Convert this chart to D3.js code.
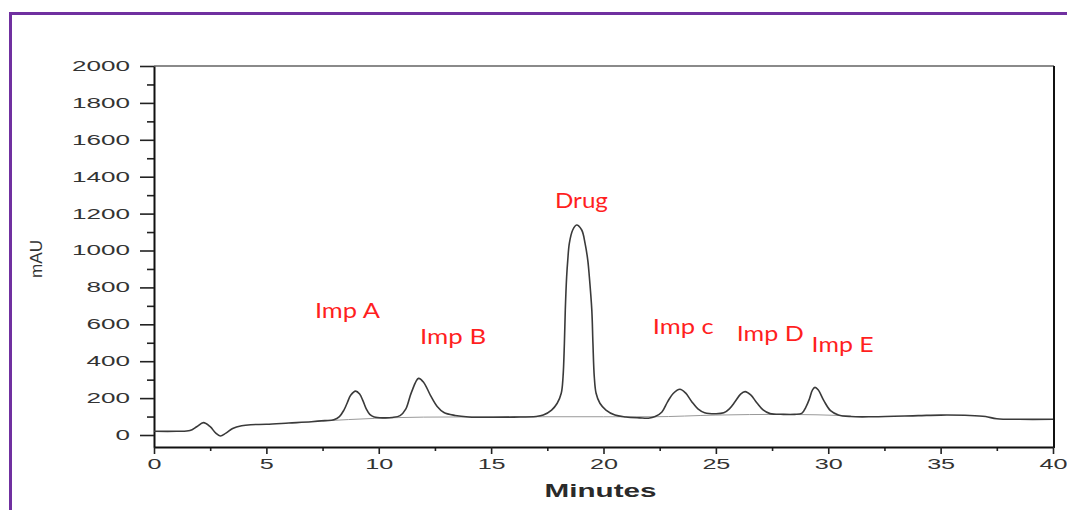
<!DOCTYPE html>
<html>
<head>
<meta charset="utf-8">
<script src="https://cdn.jsdelivr.net/npm/d3@7"></script>
<style>
  html, body { margin: 0; padding: 0; background: #fff; overflow: hidden; }
  svg { display: block; }
</style>
</head>
<body>
<svg id="chart" width="1067" height="510"></svg>
<script>
// ---- data ----
const traceTime = [0, 1.0, 1.6, 1.9, 2.2, 2.5, 2.75, 2.95, 3.2, 3.5, 3.9, 4.3, 5, 6, 7, 7.6,
  8.0, 8.25, 8.45, 8.6, 8.75, 8.97, 9.15, 9.3, 9.45, 9.6, 9.8, 10.2, 10.6,
  10.95, 11.2, 11.45, 11.77, 12.0, 12.3, 12.6, 12.9, 13.4, 14, 15, 16, 17.0,
  17.32, 17.69, 17.94, 18.12, 18.20, 18.26, 18.30, 18.36, 18.41, 18.48, 18.63, 18.80,
  19.03, 19.18, 19.30, 19.37, 19.48, 19.53, 19.59, 19.67, 19.84, 20.11, 20.51,
  21.0, 21.6, 22.0, 22.3, 22.6, 22.85, 23.1, 23.40, 23.65, 23.92, 24.2, 24.5, 25.0,
  25.35, 25.6, 25.85, 26.1, 26.30, 26.55, 26.82, 27.1, 27.41, 28.0, 28.5,
  28.82, 29.0, 29.16, 29.3, 29.41, 29.55, 29.81, 30.1, 30.45, 31, 32, 34, 35, 36.3, 37, 37.5, 38.5, 40];
const traceMAU = [20, 20, 24, 45, 67, 45, 10, -5, 10, 35, 50, 56, 58, 65, 72, 78,
  83, 100, 135, 175, 215, 238, 222, 185, 140, 112, 98, 93, 95,
  105, 140, 230, 307, 285, 215, 155, 122, 106, 98, 96, 97, 100,
  108, 135, 172, 226, 316, 497, 677, 858, 948, 1039, 1111, 1138,
  1111, 1039, 948, 858, 677, 497, 316, 226, 172, 135, 108,
  98, 93, 91, 100, 125, 180, 225, 248, 228, 182, 142, 121, 115,
  120, 142, 180, 222, 235, 217, 175, 136, 116, 112, 112,
  117, 150, 195, 245, 258, 245, 185, 132, 109, 100, 99, 105, 108, 106, 100, 88, 85, 85];

// integration baseline drawn under the peaks
const baseTime = [7.5, 9.8, 12, 16, 20, 22.2, 25, 28, 31];
const baseMAU  = [76, 90, 97, 99, 99, 99, 108, 112, 104];

// peak annotations
const peakLabels = ["Imp A", "Imp B", "Drug", "Imp c", "Imp D", "Imp E"];
const labelTime  = [7.16, 11.84, 17.84, 22.19, 25.93, 29.26];
const labelMAU   = [634, 493, 1229, 546, 511, 448];
const labelWidth = [65, 66, 53, 61, 67, 62];

const yMajor = [0, 200, 400, 600, 800, 1000, 1200, 1400, 1600, 1800, 2000];
const yMinor = [100, 300, 500, 700, 900, 1100, 1300, 1500, 1700, 1900];
const xMajor = [0, 5, 10, 15, 20, 25, 30, 35, 40];
const xMinor = [2.5, 7.5, 12.5, 17.5, 22.5, 27.5, 32.5, 37.5];

// ---- drawing ----
const svg = d3.select("#chart");

// purple frame
svg.append("rect")
  .attr("x", 10.5).attr("y", 13.5).attr("width", 1200).attr("height", 700)
  .attr("fill", "none").attr("stroke", "#7030a0").attr("stroke-width", 3);

const x = d3.scaleLinear().domain([0, 40]).range([154, 1053]);
const y = d3.scaleLinear().domain([-65, 2000]).range([447, 66]);

const numFont = "'Liberation Sans', Arial, sans-serif";

// top frame line (gray)
svg.append("line")
  .attr("x1", x(0)).attr("x2", x(40) + 1).attr("y1", y(2000)).attr("y2", y(2000))
  .attr("stroke", "#8a8a8a").attr("stroke-width", 2);
// right frame line
svg.append("line")
  .attr("x1", x(40) + 1).attr("x2", x(40) + 1).attr("y1", y(2000)).attr("y2", y(-65) + 1)
  .attr("stroke", "#111").attr("stroke-width", 2);

// y axis minor
svg.append("g").attr("transform", `translate(${x(0)},0)`)
  .call(d3.axisLeft(y).tickValues(yMinor).tickSize(7).tickSizeOuter(0).tickFormat(""))
  .call(g => g.select(".domain").remove())
  .call(g => g.selectAll("line").attr("stroke", "#222").attr("stroke-width", 1.6));
// y axis major
svg.append("g").attr("transform", `translate(${x(0)},0)`)
  .call(d3.axisLeft(y).tickValues(yMajor).tickSize(14).tickSizeOuter(0).tickPadding(10).tickFormat(d3.format("d")))
  .call(g => g.select(".domain").attr("stroke", "#111").attr("stroke-width", 2))
  .call(g => g.selectAll("line").attr("stroke", "#222").attr("stroke-width", 1.6))
  .call(g => g.selectAll("text")
    .attr("font-family", numFont).attr("font-size", 14).attr("fill", "#333")
    .attr("lengthAdjust", "spacingAndGlyphs")
    .attr("textLength", d => String(d).length * 14.5));

// x axis minor
svg.append("g").attr("transform", `translate(0,${y(-65)})`)
  .call(d3.axisBottom(x).tickValues(xMinor).tickSize(4).tickSizeOuter(0).tickFormat(""))
  .call(g => g.select(".domain").remove())
  .call(g => g.selectAll("line").attr("stroke", "#222").attr("stroke-width", 1.6));
// x axis major
svg.append("g").attr("transform", `translate(0,${y(-65)})`)
  .call(d3.axisBottom(x).tickValues(xMajor).tickSize(7).tickSizeOuter(0).tickPadding(5).tickFormat(d3.format("d")))
  .call(g => g.select(".domain").attr("stroke", "#111").attr("stroke-width", 2))
  .call(g => g.selectAll("line").attr("stroke", "#222").attr("stroke-width", 1.6))
  .call(g => g.selectAll("text")
    .attr("font-family", numFont).attr("font-size", 14).attr("fill", "#333")
    .attr("lengthAdjust", "spacingAndGlyphs")
    .attr("textLength", d => String(d).length * 14));

// axis titles
svg.append("text")
  .attr("x", (x(0) + x(40)) / 2 - 3).attr("y", 496.5)
  .attr("text-anchor", "middle")
  .attr("font-family", numFont).attr("font-size", 18).attr("font-weight", "bold")
  .attr("fill", "#2a2a2a")
  .attr("lengthAdjust", "spacingAndGlyphs").attr("textLength", 112)
  .text("Minutes");
svg.append("text")
  .attr("transform", "translate(42,259) rotate(-90)")
  .attr("text-anchor", "middle")
  .attr("font-family", numFont).attr("font-size", 17)
  .attr("fill", "#333")
  .attr("lengthAdjust", "spacingAndGlyphs").attr("textLength", 38)
  .text("mAU");

// integration baseline
const baseData = baseTime.map((t, i) => [t, baseMAU[i]]);
svg.append("path")
  .datum(baseData)
  .attr("fill", "none").attr("stroke", "#9a9a9a").attr("stroke-width", 1)
  .attr("d", d3.line().x(d => x(d[0])).y(d => y(d[1])).curve(d3.curveMonotoneX));

// chromatogram trace
const traceData = traceTime.map((t, i) => [t, traceMAU[i]]);
svg.append("path")
  .datum(traceData)
  .attr("fill", "none").attr("stroke", "#3a3a3a").attr("stroke-width", 1.6)
  .attr("stroke-linejoin", "round")
  .attr("d", d3.line().x(d => x(d[0])).y(d => y(d[1])).curve(d3.curveCatmullRom.alpha(0.5)));

// peak labels
svg.append("g").selectAll("text")
  .data(peakLabels)
  .join("text")
  .attr("x", (d, i) => x(labelTime[i]))
  .attr("y", (d, i) => y(labelMAU[i]))
  .attr("font-family", "Lato, 'Open Sans', sans-serif")
  .attr("font-size", 21)
  .attr("fill", "#ff1f1f")
  .attr("lengthAdjust", "spacingAndGlyphs")
  .attr("textLength", (d, i) => labelWidth[i])
  .text(d => d);
</script>
</body>
</html>
